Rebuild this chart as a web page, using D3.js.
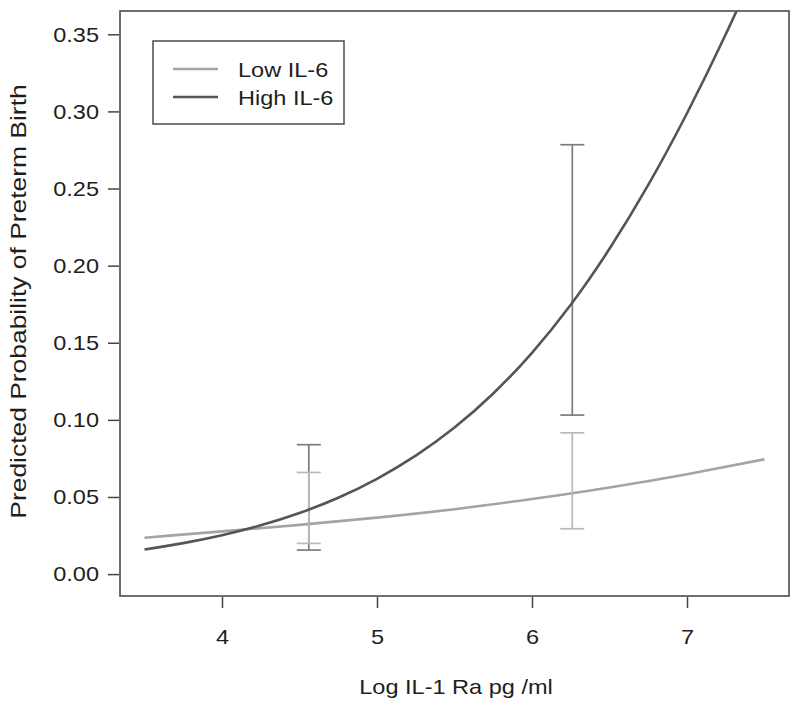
<!DOCTYPE html>
<html>
<head>
<meta charset="utf-8">
<script src="https://cdn.jsdelivr.net/npm/d3@7"></script>
<style>
  html, body { margin: 0; padding: 0; background: #fff; }
  svg { display: block; font-family: "Liberation Sans", Arial, Helvetica, sans-serif; }
</style>
</head>
<body>
<svg id="chart" width="800" height="705"></svg>
<script>
// ---- data ----
const lowX  = [3.5, 4.0, 4.5, 5.0, 5.5, 6.0, 6.5, 7.0, 7.5];
const lowY  = [0.0236, 0.0277, 0.0319, 0.0366, 0.0421, 0.0487, 0.0562, 0.0648, 0.0744];
const highX = [3.5, 3.75, 4.0, 4.25, 4.5, 4.75, 5.0, 5.25, 5.5, 5.75, 6.0, 6.25, 6.5, 6.75, 7.0, 7.25, 7.5];
const highY = [0.0160, 0.0201, 0.0252, 0.0316, 0.0396, 0.0495, 0.0618, 0.0768, 0.0950, 0.1171, 0.1435, 0.1746, 0.2109, 0.2523, 0.2988, 0.3500, 0.4050];
// error bars: group, x position, lower, upper
const errGroup = ["High", "Low", "High", "Low"];
const errX     = [4.56, 4.56, 6.26, 6.26];
const errLo    = [0.0156, 0.0199, 0.1031, 0.0294];
const errHi    = [0.0839, 0.0659, 0.2784, 0.0916];
const xTicks = [4, 5, 6, 7];
const yTicks = [0.00, 0.05, 0.10, 0.15, 0.20, 0.25, 0.30, 0.35];
const seriesNames = ["Low IL-6", "High IL-6"];
const xTitle = "Log IL-1 Ra pg /ml";
const yTitle = "Predicted Probability of Preterm Birth";

// ---- layout ----
const L = 120, R = 789, T = 11, B = 596;
const colors = { Low: "#a4a4a4", High: "#555555" };
const errColors = { Low: "#b9b9b9", High: "#7c7c7c" };
const FS = 21, STRETCH = 1.12, TXT = "#1e1e1e";

const svg = d3.select("#chart");
const x = d3.scaleLinear().domain([3.342, 7.658]).range([L, R]);
const y = d3.scaleLinear().domain([-0.0142, 0.3651]).range([B, T]);

// widen glyphs a little (the reference face is wider than Liberation Sans)
function stretch(sel, k) {
  sel.each(function () {
    const w = this.getComputedTextLength();
    d3.select(this).attr("textLength", w * (k || STRETCH)).attr("lengthAdjust", "spacingAndGlyphs");
  });
}

svg.append("defs").append("clipPath").attr("id", "clip")
  .append("rect").attr("x", L).attr("y", T).attr("width", R - L).attr("height", B - T);

const plot = svg.append("g").attr("clip-path", "url(#clip)");
const line = d3.line().x(d => x(d[0])).y(d => y(d[1])).curve(d3.curveNatural);

plot.append("path")
  .datum(lowX.map((v, i) => [v, lowY[i]]))
  .attr("d", line).attr("fill", "none")
  .attr("stroke", colors.Low).attr("stroke-width", 2.6);

// error bars
const capW = 12;
errX.forEach((ex, i) => {
  const g = plot.append("g").attr("stroke", errColors[errGroup[i]]).attr("stroke-width", 1.7);
  g.append("line").attr("x1", x(ex)).attr("x2", x(ex)).attr("y1", y(errLo[i])).attr("y2", y(errHi[i]));
  g.append("line").attr("x1", x(ex) - capW).attr("x2", x(ex) + capW).attr("y1", y(errLo[i])).attr("y2", y(errLo[i]));
  g.append("line").attr("x1", x(ex) - capW).attr("x2", x(ex) + capW).attr("y1", y(errHi[i])).attr("y2", y(errHi[i]));
});

plot.append("path")
  .datum(highX.map((v, i) => [v, highY[i]]))
  .attr("d", line).attr("fill", "none")
  .attr("stroke", colors.High).attr("stroke-width", 2.6);

// frame
svg.append("rect").attr("x", L).attr("y", T).attr("width", R - L).attr("height", B - T)
  .attr("fill", "none").attr("stroke", "#555").attr("stroke-width", 1.7);

// axes
const yAxis = d3.axisLeft(y).tickValues(yTicks).tickFormat(d3.format(".2f")).tickSize(11).tickPadding(9);
const yg = svg.append("g").attr("transform", `translate(${L - 1},0)`).call(yAxis);
yg.select(".domain").remove();
yg.selectAll("line").attr("stroke", "#444").attr("stroke-width", 1.5);
yg.selectAll("text").attr("font-size", FS).attr("fill", TXT)
  .attr("font-family", "Liberation Sans, Arial, sans-serif").call(stretch);

const xAxis = d3.axisBottom(x).tickValues(xTicks).tickFormat(d3.format("d")).tickSize(11).tickPadding(21);
const xg = svg.append("g").attr("transform", `translate(0,${B + 1})`).call(xAxis);
xg.select(".domain").remove();
xg.selectAll("line").attr("stroke", "#444").attr("stroke-width", 1.5);
xg.selectAll("text").attr("font-size", FS).attr("fill", TXT)
  .attr("font-family", "Liberation Sans, Arial, sans-serif").call(stretch);

svg.append("text").attr("x", 456).attr("y", 694).attr("text-anchor", "middle")
  .attr("font-size", FS).attr("fill", TXT).text(xTitle).call(stretch);
svg.append("text").attr("transform", `translate(26,${(T + B) / 2 - 2}) rotate(-90)`)
  .attr("text-anchor", "middle").attr("font-size", 22).attr("fill", TXT).text(yTitle)
  .call(sel => stretch(sel, 1.2));

// legend
const lg = svg.append("g");
lg.append("rect").attr("x", 153).attr("y", 41).attr("width", 191).attr("height", 83)
  .attr("fill", "#fff").attr("stroke", "#555").attr("stroke-width", 1.6);
const legKeys = ["Low", "High"];
seriesNames.forEach((name, i) => {
  const yy = 69 + i * 28;
  lg.append("line").attr("x1", 173).attr("x2", 218).attr("y1", yy).attr("y2", yy)
    .attr("stroke", colors[legKeys[i]]).attr("stroke-width", 2.6);
  lg.append("text").attr("x", 238).attr("y", yy + 8).attr("font-size", FS).attr("fill", TXT)
    .text(name).call(stretch);
});
</script>
</body>
</html>
